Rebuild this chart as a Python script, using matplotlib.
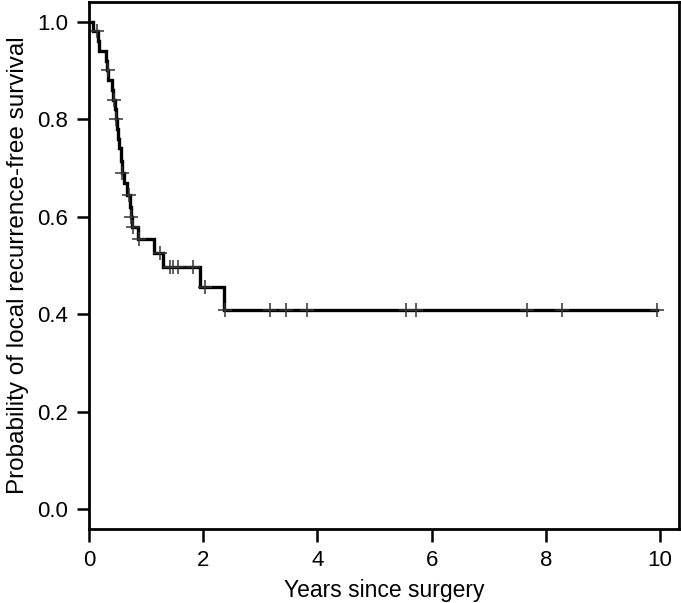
import numpy as np
import matplotlib
matplotlib.use("Agg")
import matplotlib.pyplot as plt

plt.rcParams['font.family'] = ['Liberation Sans', 'DejaVu Sans']

# Kaplan-Meier step points (time in years, survival after the drop)
event_times = [0.0, 0.07, 0.16, 0.18, 0.30, 0.32, 0.34, 0.40, 0.42, 0.45,
               0.47, 0.49, 0.51, 0.53, 0.56, 0.58, 0.62, 0.67, 0.72, 0.74,
               0.76, 0.86, 1.14, 1.30, 1.95, 2.36]
surv = [1.0, 0.98, 0.96, 0.94, 0.92, 0.90, 0.88, 0.86, 0.84, 0.82,
        0.80, 0.78, 0.76, 0.74, 0.715, 0.69, 0.67, 0.645, 0.62, 0.60,
        0.578, 0.554, 0.525, 0.497, 0.456, 0.409]

# censored observations
censor_times = [0.14, 0.33, 0.43, 0.48, 0.58, 0.70, 0.74, 0.77, 0.87,
                1.25, 1.42, 1.47, 1.56, 1.82, 2.03, 2.38, 3.17, 3.45,
                3.82, 5.55, 5.73, 7.67, 8.28, 9.94]
last_time = 9.94

xticks = [0, 2, 4, 6, 8, 10]
yticks = [0.0, 0.2, 0.4, 0.6, 0.8, 1.0]

fig = plt.figure(figsize=(6.81, 6.03), dpi=100)
ax = fig.add_axes([0.1307, 0.1227, 0.8664, 0.874])

t = np.array(event_times + [last_time])
s = np.array(surv + [surv[-1]])
ax.step(t, s, where='post', color='black', lw=2.4, solid_joinstyle='miter')

idx = np.searchsorted(event_times, censor_times, side='right') - 1
cy = np.array(surv)[idx]
ax.plot(censor_times, cy, ls='none', marker='+', ms=10, mew=1.1, color='#333333')

ax.set_xlim(0, 10.33)
ax.set_ylim(-0.04, 1.04)
ax.set_xticks(xticks)
ax.set_xticklabels([str(v) for v in xticks])
ax.set_yticks(yticks)
ax.set_yticklabels([f"{v:.1f}" for v in yticks])

for sp in ax.spines.values():
    sp.set_linewidth(2.0)
ax.tick_params(axis='both', length=9, width=1.8, labelsize=16, pad=6)

ax.set_xlabel("Years since surgery", fontsize=16.5, labelpad=6)
ax.set_ylabel("Probability of local recurrence-free survival", fontsize=17.5, labelpad=6)

fig.savefig("out.png", dpi=100)
